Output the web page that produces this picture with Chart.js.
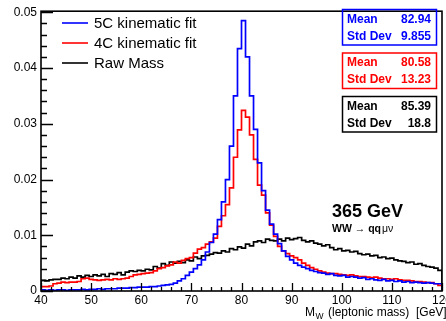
<!DOCTYPE html>
<html>
<head>
<meta charset="utf-8">
<script src="https://cdn.jsdelivr.net/npm/chart.js@4.4.1/dist/chart.umd.min.js"></script>
<style>
  html, body { margin: 0; padding: 0; background: #fff; }
  canvas { display: block; }
</style>
</head>
<body>
<canvas id="massChart" width="446" height="321"></canvas>
<script>
// histogram binning: 100 bins from 40 to 120 GeV
const xMin = 40;
const xMax = 120;
const binWidth = 0.8;
const yMax = 0.0502;

// bin contents
const fit5C = [
  0.0002, 0.0001, 0.0002, 0.0001, 0.0002, 0.0002, 0.0001, 0.0002, 0.0002, 0.0002,
  0.0003, 0.0002, 0.0003, 0.0003, 0.0004, 0.0003, 0.0004, 0.0004, 0.0004, 0.0005,
  0.0005, 0.0005, 0.0006, 0.0006, 0.0007, 0.0007, 0.0007, 0.0008, 0.0008, 0.0009,
  0.0010, 0.0011, 0.0012, 0.0014, 0.0018, 0.0022, 0.0028, 0.0034, 0.0040, 0.0047,
  0.0056, 0.0070, 0.0087, 0.0102, 0.0128, 0.0160, 0.0200, 0.0260, 0.0350, 0.0435,
  0.0485, 0.0420, 0.0350, 0.0290, 0.0230, 0.0180, 0.0145, 0.0120, 0.0102, 0.0085,
  0.0072, 0.0062, 0.0056, 0.0050, 0.0046, 0.0043, 0.0040, 0.0037, 0.0035, 0.0033,
  0.0032, 0.0030, 0.0031, 0.0028, 0.0027, 0.0028, 0.0025, 0.0026, 0.0025, 0.0023,
  0.0024, 0.0021, 0.0022, 0.0020, 0.0019, 0.0021, 0.0018, 0.0019, 0.0017, 0.0018,
  0.0016, 0.0017, 0.0015, 0.0016, 0.0015, 0.0014, 0.0015, 0.0014, 0.0013, 0.0013
];
const fit4C = [
  0.0008, 0.0008, 0.0009, 0.0013, 0.0014, 0.0016, 0.0015, 0.0016, 0.0016, 0.0017,
  0.0022, 0.0023, 0.0021, 0.0020, 0.0019, 0.0020, 0.0021, 0.0020, 0.0022, 0.0021,
  0.0022, 0.0023, 0.0026, 0.0029, 0.0030, 0.0031, 0.0032, 0.0033, 0.0036, 0.0040,
  0.0042, 0.0045, 0.0047, 0.0052, 0.0050, 0.0055, 0.0058, 0.0060, 0.0068, 0.0075,
  0.0078, 0.0084, 0.0088, 0.0095, 0.0116, 0.0135, 0.0155, 0.0185, 0.0240, 0.0289,
  0.0324, 0.0312, 0.0280, 0.0236, 0.0190, 0.0172, 0.0140, 0.0118, 0.0098, 0.0080,
  0.0072, 0.0067, 0.0063, 0.0060, 0.0056, 0.0050, 0.0046, 0.0042, 0.0039, 0.0036,
  0.0034, 0.0032, 0.0031, 0.0031, 0.0030, 0.0029, 0.0028, 0.0029, 0.0027, 0.0026,
  0.0026, 0.0025, 0.0024, 0.0025, 0.0023, 0.0022, 0.0022, 0.0021, 0.0022, 0.0020,
  0.0019, 0.0019, 0.0018, 0.0017, 0.0017, 0.0016, 0.0015, 0.0015, 0.0013, 0.0010
];
const rawMass = [
  0.0019, 0.0018, 0.0020, 0.0021, 0.0021, 0.0023, 0.0022, 0.0025, 0.0023, 0.0027,
  0.0025, 0.0028, 0.0026, 0.0029, 0.0027, 0.0030, 0.0026, 0.0031, 0.0030, 0.0033,
  0.0029, 0.0034, 0.0036, 0.0035, 0.0037, 0.0036, 0.0039, 0.0038, 0.0044, 0.0041,
  0.0049, 0.0046, 0.0052, 0.0050, 0.0053, 0.0051, 0.0056, 0.0054, 0.0061, 0.0058,
  0.0063, 0.0064, 0.0066, 0.0069, 0.0068, 0.0072, 0.0070, 0.0076, 0.0074, 0.0079,
  0.0077, 0.0084, 0.0081, 0.0088, 0.0090, 0.0087, 0.0093, 0.0091, 0.0090, 0.0093,
  0.0090, 0.0095, 0.0092, 0.0094, 0.0096, 0.0091, 0.0088, 0.0090, 0.0086, 0.0084,
  0.0081, 0.0083, 0.0078, 0.0074, 0.0076, 0.0072, 0.0073, 0.0070, 0.0071, 0.0067,
  0.0065, 0.0066, 0.0063, 0.0064, 0.0060, 0.0061, 0.0058, 0.0059, 0.0056, 0.0054,
  0.0053, 0.0051, 0.0052, 0.0048, 0.0049, 0.0046, 0.0044, 0.0043, 0.0041, 0.0037
];

const seriesLabels = ['5C kinematic fit', '4C kinematic fit', 'Raw Mass'];
const seriesColors = ['#0000ff', '#ff0000', '#000000'];
const statMeans = ['82.94', '80.58', '85.39'];
const statStdDevs = ['9.855', '13.23', '18.8'];
const yTickLabels = ['0', '0.01', '0.02', '0.03', '0.04', '0.05'];

const FONT = "'Liberation Sans', Arial, Helvetica, sans-serif";

// turn bin contents into a step outline (low edge of every bin, closed at both ends)
function toSteps(values) {
  const pts = [{ x: xMin, y: 0 }];
  values.forEach((v, i) => pts.push({ x: xMin + i * binWidth, y: v }));
  pts.push({ x: xMax, y: values[values.length - 1] });
  pts.push({ x: xMax, y: 0 });
  return pts;
}

// ROOT-like frame, inward ticks, legend, stat boxes and labels
const rootStyle = {
  id: 'rootStyle',
  afterDraw(chart) {
    const { ctx, chartArea: a, scales: { x, y } } = chart;
    ctx.save();

    // frame
    ctx.strokeStyle = '#000';
    ctx.lineWidth = 1.6;
    ctx.strokeRect(a.left, a.top, a.right - a.left, a.bottom - a.top);

    // x ticks every 2 GeV, major every 10
    ctx.lineWidth = 1.3;
    ctx.beginPath();
    for (let v = xMin; v <= xMax + 0.001; v += 2) {
      const px = Math.round(x.getPixelForValue(v)) + 0.5;
      const len = Math.round(v) % 10 === 0 ? 8 : 4;
      ctx.moveTo(px, a.bottom);
      ctx.lineTo(px, a.bottom - len);
    }
    // y ticks every 0.002, major every 0.01
    for (let i = 0; i * 0.002 <= yMax + 1e-9; i++) {
      const py = Math.round(y.getPixelForValue(i * 0.002)) + 0.5;
      const len = i % 5 === 0 ? 12 : 6;
      ctx.moveTo(a.left, py);
      ctx.lineTo(a.left + len, py);
    }
    ctx.stroke();

    // legend
    ctx.textBaseline = 'middle';
    ctx.textAlign = 'left';
    ctx.font = '15px ' + FONT;
    seriesLabels.forEach((lab, i) => {
      const ly = 23 + i * 20;
      ctx.strokeStyle = seriesColors[i];
      ctx.lineWidth = 1.6;
      ctx.beginPath();
      ctx.moveTo(62, ly);
      ctx.lineTo(88, ly);
      ctx.stroke();
      ctx.fillStyle = '#000';
      ctx.fillText(lab, 94, ly + 1);
    });

    // stat boxes
    const boxTops = [9.5, 53, 96.5];
    ctx.font = 'bold 12px ' + FONT;
    boxTops.forEach((top, i) => {
      ctx.strokeStyle = seriesColors[i];
      ctx.lineWidth = 1.5;
      ctx.strokeRect(342.5, top, 94, 35.5);
      ctx.fillStyle = seriesColors[i];
      ctx.textAlign = 'left';
      ctx.fillText('Mean', 347, top + 10);
      ctx.fillText('Std Dev', 347, top + 27);
      ctx.textAlign = 'right';
      ctx.fillText(statMeans[i], 431, top + 10);
      ctx.fillText(statStdDevs[i], 431, top + 27);
    });

    // energy / channel label
    ctx.fillStyle = '#000';
    ctx.textAlign = 'left';
    ctx.font = 'bold 18px ' + FONT;
    ctx.fillText('365 GeV', 332, 212);
    ctx.font = 'bold 10.5px ' + FONT;
    ctx.fillText('WW \u2192 qq', 332, 229);
    const w = ctx.measureText('WW \u2192 qq').width;
    ctx.font = '10.5px ' + FONT;
    ctx.fillText('\u03bc\u03bd', 332 + w + 1, 229);

    // x axis title with subscript
    ctx.textBaseline = 'alphabetic';
    ctx.font = '12px ' + FONT;
    ctx.fillText('M', 305, 316);
    ctx.font = '8.5px ' + FONT;
    ctx.fillText('W', 315.5, 319);
    ctx.font = '12px ' + FONT;
    ctx.fillText('(leptonic mass)', 328, 316);
    ctx.fillText('[GeV]', 416, 316);

    ctx.restore();
  }
};

new Chart(document.getElementById('massChart').getContext('2d'), {
  type: 'line',
  data: {
    datasets: [fit5C, fit4C, rawMass].map((vals, i) => ({
      label: seriesLabels[i],
      data: toSteps(vals),
      borderColor: seriesColors[i],
      borderWidth: 1.7,
      stepped: true,
      pointRadius: 0,
      fill: false,
      tension: 0,
    })),
  },
  options: {
    responsive: false,
    devicePixelRatio: 1,
    animation: false,
    layout: { padding: { left: 0, right: 4, top: 6, bottom: 0 }, autoPadding: false },
    plugins: { legend: { display: false }, tooltip: { enabled: false } },
    scales: {
      x: {
        type: 'linear',
        min: xMin,
        max: xMax,
        grid: { display: false, drawTicks: false },
        border: { display: false },
        ticks: {
          stepSize: 10,
          autoSkip: false,
          maxRotation: 0,
          includeBounds: false,
          padding: 2,
          color: '#000',
          font: { family: FONT, size: 12 },
        },
        afterFit: (s) => { s.height = 30; s.paddingLeft = 0; s.paddingRight = 0; },
      },
      y: {
        type: 'linear',
        min: 0,
        max: yMax,
        grid: { display: false, drawTicks: false },
        border: { display: false },
        ticks: {
          stepSize: 0.01,
          includeBounds: false,
          padding: 4,
          color: '#000',
          font: { family: FONT, size: 12 },
          callback: (v) => yTickLabels[Math.round(v / 0.01)],
        },
        afterFit: (s) => { s.width = 41; },
      },
    },
  },
  plugins: [rootStyle],
});
</script>
</body>
</html>
